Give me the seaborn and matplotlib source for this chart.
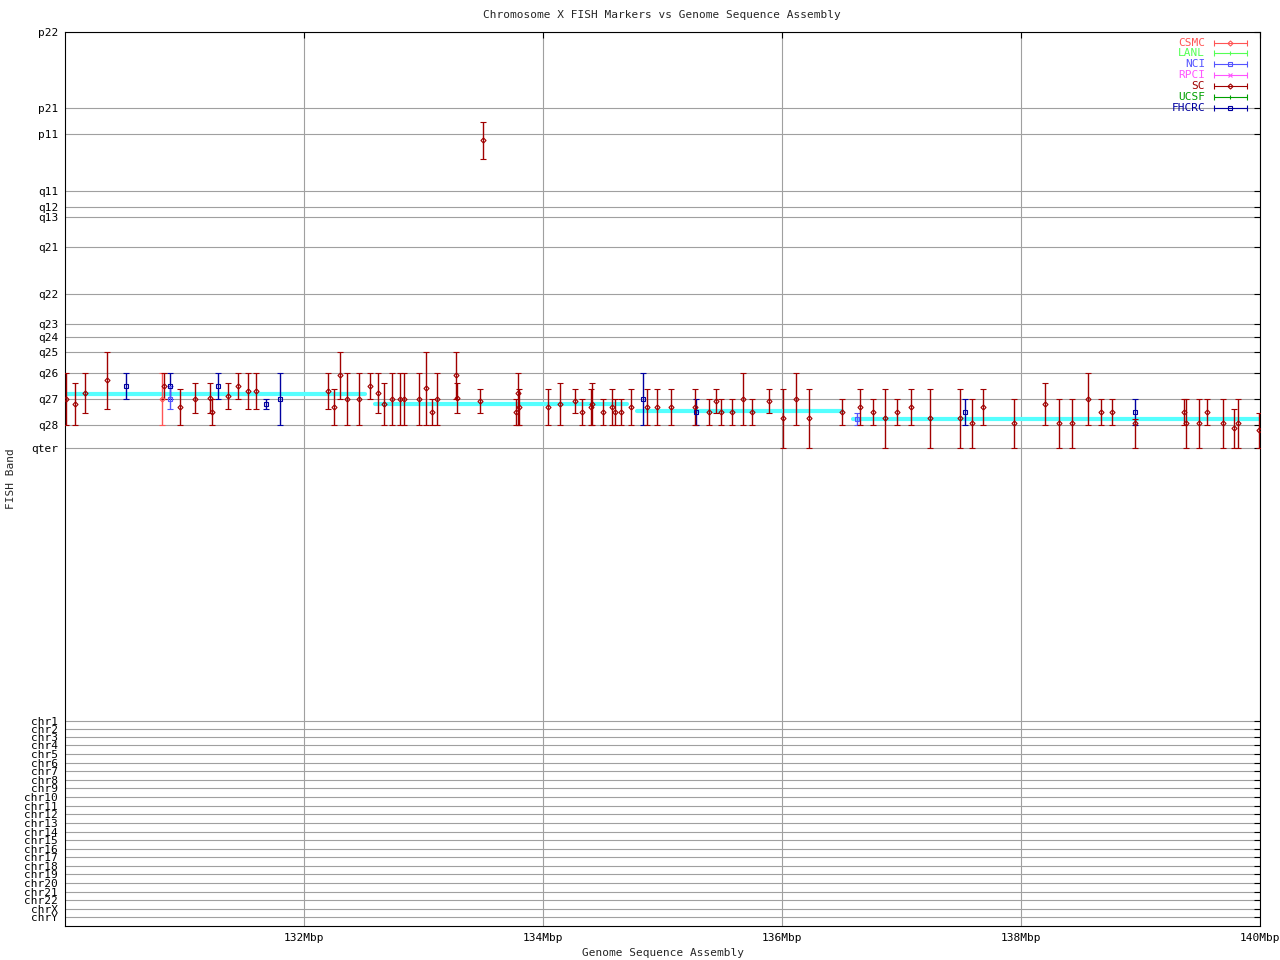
import numpy as np
import pandas as pd
import matplotlib
matplotlib.use("Agg")
import matplotlib.pyplot as plt
import seaborn as sns

# FISH band rows (axis runs top -> bottom)
band_labels = ['p22', 'p21', 'p11', 'q11', 'q12', 'q13', 'q21', 'q22', 'q23',
               'q24', 'q25', 'q26', 'q27', 'q28', 'qter']
band_ticks = [32, 108.3, 134.3, 191.3, 207.3, 217.3, 247.3, 294.3, 324,
              337.3, 352.3, 373.3, 399.3, 425.3, 448.3]
chr_labels = ['chr%d' % i for i in range(1, 23)] + ['chrX', 'chrY']
chr_ticks = [720.7, 728.7, 737.3, 745.3, 754, 763, 771, 780, 788.3, 797.3,
             806, 814.3, 823.3, 831.7, 840.3, 849.3, 857.3, 866, 874, 883,
             892.3, 900.3, 909.3, 917]

# genome sequence assembly trace (cyan)
asm_seg = [1, 1, 2, 2, 3, 3, 4, 4]
asm_mbp = [129.98, 132.51, 132.59, 134.70, 134.79, 136.50, 136.59, 140.0]
asm_band = [393.5, 393.5, 403.5, 403.5, 411, 411, 419, 419]

# FISH markers: position (Mbp), band, band range, lab
mbp = [130.01, 130.08, 130.17, 130.35, 130.51, 130.81, 130.83, 130.88, 130.88, 130.96,
       131.09, 131.21, 131.23, 131.28, 131.36, 131.45, 131.53, 131.60, 131.68, 131.80,
       132.20, 132.25, 132.30, 132.36, 132.46, 132.55, 132.62, 132.67, 132.74, 132.80,
       132.84, 132.96, 133.02, 133.07, 133.11, 133.27, 133.28, 133.47, 133.50, 133.77,
       133.79, 133.80, 134.04, 134.14, 134.27, 134.33, 134.40, 134.41, 134.50, 134.58,
       134.60, 134.65, 134.74, 134.84, 134.87, 134.95, 135.07, 135.27, 135.28, 135.39,
       135.45, 135.49, 135.58, 135.67, 135.75, 135.89, 136.01, 136.12, 136.23, 136.50,
       136.63, 136.65, 136.76, 136.86, 136.96, 137.08, 137.24, 137.49, 137.53, 137.59,
       137.68, 137.94, 138.20, 138.32, 138.43, 138.56, 138.67, 138.76, 138.95, 138.95,
       139.36, 139.38, 139.49, 139.56, 139.69, 139.78, 139.82, 139.99]
band = [399.3, 404.3, 393.3, 380.3, 386.3, 399.3, 386.3, 386.3, 399.3, 407.3,
        399.3, 398.3, 412.0, 386.3, 396.3, 386.3, 391.3, 391.3, 404.3, 399.3,
        391.3, 407.3, 375.3, 399.3, 399.3, 386.3, 393.3, 404.3, 399.3, 399.3,
        399.3, 399.3, 388.3, 412.0, 399.3, 375.3, 398.3, 401.3, 140.3, 412.0,
        393.3, 407.3, 407.3, 404.3, 401.3, 412.0, 407.3, 404.3, 412.0, 407.3,
        412.0, 412.0, 407.3, 399.3, 407.3, 407.3, 407.3, 407.3, 412.0, 412.0,
        401.3, 412.0, 412.0, 399.3, 412.0, 401.3, 418.3, 399.3, 418.3, 412.0,
        419.0, 407.3, 412.0, 418.3, 412.0, 407.3, 418.3, 418.3, 412.0, 423.3,
        407.3, 423.3, 404.3, 423.3, 423.3, 399.3, 412.0, 412.0, 412.0, 423.3,
        412.0, 423.3, 423.3, 412.0, 423.3, 428.3, 423.3, 430.0]
band_lo = [373.3, 382.7, 373.3, 352.3, 373.3, 373.3, 373.3, 373.3, 386.3, 389.3,
           382.7, 382.7, 399.3, 373.3, 382.7, 373.3, 373.3, 373.3, 399.3, 373.3,
           373.3, 389.3, 352.3, 373.3, 373.3, 373.3, 373.3, 382.7, 373.3, 373.3,
           373.3, 373.3, 352.3, 399.3, 373.3, 352.3, 382.7, 389.3, 122.3, 399.3,
           373.3, 389.3, 389.3, 382.7, 389.3, 399.3, 389.3, 382.7, 399.3, 389.3,
           399.3, 399.3, 389.3, 373.3, 389.3, 389.3, 389.3, 389.3, 399.3, 399.3,
           389.3, 399.3, 399.3, 373.3, 399.3, 389.3, 389.3, 373.3, 389.3, 399.3,
           413.3, 389.3, 399.3, 389.3, 399.3, 389.3, 389.3, 389.3, 399.3, 399.3,
           389.3, 399.3, 382.7, 399.3, 399.3, 373.3, 399.3, 399.3, 399.3, 419.0,
           399.3, 399.3, 399.3, 399.3, 399.3, 409.3, 399.3, 413.3]
band_hi = [425.3, 425.3, 413.3, 409.3, 399.3, 425.3, 399.3, 399.3, 409.3, 425.3,
           413.3, 413.3, 425.3, 399.3, 409.3, 399.3, 409.3, 409.3, 409.3, 425.3,
           409.3, 425.3, 399.3, 425.3, 425.3, 399.3, 413.3, 425.3, 425.3, 425.3,
           425.3, 425.3, 425.3, 425.3, 425.3, 399.3, 413.3, 413.3, 159.3, 425.3,
           425.3, 425.3, 425.3, 425.3, 413.3, 425.3, 425.3, 425.3, 425.3, 425.3,
           425.3, 425.3, 425.3, 425.3, 425.3, 425.3, 425.3, 425.3, 425.3, 425.3,
           413.3, 425.3, 425.3, 425.3, 425.3, 413.3, 448.3, 425.3, 448.3, 425.3,
           425.3, 425.3, 425.3, 448.3, 425.3, 425.3, 448.3, 448.3, 425.3, 448.3,
           425.3, 448.3, 425.3, 448.3, 448.3, 425.3, 425.3, 425.3, 425.3, 448.3,
           425.3, 448.3, 448.3, 425.3, 448.3, 448.3, 448.3, 448.3]
lab = (['SC'] * 4 + ['FHCRC', 'CSMC', 'SC', 'FHCRC', 'NCI'] + ['SC'] * 4 +
       ['FHCRC'] + ['SC'] * 4 + ['FHCRC', 'FHCRC'] + ['SC'] * 33 + ['FHCRC'] +
       ['SC'] * 4 + ['FHCRC'] + ['SC'] * 11 + ['NCI'] + ['SC'] * 7 + ['FHCRC'] +
       ['SC'] * 9 + ['FHCRC'] + ['SC'] * 9)

legend_labs = ['CSMC', 'LANL', 'NCI', 'RPCI', 'SC', 'UCSF', 'FHCRC']
lab_color = {'CSMC': '#ff5555', 'LANL': '#55ff55', 'NCI': '#5555ff', 'RPCI': '#ff55ff',
             'SC': '#a00000', 'UCSF': '#00a000', 'FHCRC': '#0000a0'}
lab_marker = {'CSMC': 'D', 'LANL': '|', 'NCI': 's', 'RPCI': 'x',
              'SC': 'D', 'UCSF': '|', 'FHCRC': 's'}

df = pd.DataFrame({'mbp': mbp, 'band': band, 'lo': band_lo, 'hi': band_hi, 'lab': lab})
asm = pd.DataFrame({'seg': asm_seg, 'mbp': asm_mbp, 'band': asm_band})

sns.set_style('white')
plt.rcParams['font.family'] = ['DejaVu Sans Mono']
fs = 8

fig = plt.figure(figsize=(12.8, 9.6), dpi=100)
ax = fig.add_axes([65 / 1280, 1 - 926 / 960, 1195 / 1280, 894 / 960])

# assembly trace
sns.lineplot(data=asm, x='mbp', y='band', units='seg', estimator=None,
             color='#55ffff', lw=3, ax=ax, zorder=2)

# FISH markers with band range
for name, g in df.groupby('lab'):
    c = lab_color[name]
    ax.errorbar(g['mbp'], g['band'], yerr=[g['band'] - g['lo'], g['hi'] - g['band']],
                fmt=lab_marker[name], ms=3.2 if lab_marker[name] == 's' else 2.6,
                mfc='none', mec=c, mew=0.8, ecolor=c, elinewidth=1.0,
                capsize=2, capthick=0.8, zorder=3)

ax.set_xlim(130, 140)
ax.set_ylim(926, 32)
ax.set_xticks([132, 134, 136, 138, 140])
ax.set_xticklabels(['%dMbp' % v for v in [132, 134, 136, 138, 140]])
ax.set_yticks(band_ticks + chr_ticks)
ax.set_yticklabels(band_labels + chr_labels)
ax.grid(True, color='#a0a0a0', lw=0.8)
ax.tick_params(direction='in', length=4, width=0.8, top=True, right=True,
               labelsize=fs, pad=5, colors='black')
for s in ax.spines.values():
    s.set_color('black')
    s.set_linewidth(0.8)

ax.set_xlabel('Genome Sequence Assembly', fontsize=fs)
ax.xaxis.set_label_coords(0.5, -0.0302)
ax.xaxis.label.set_va('center')
ax.set_ylabel('FISH Band', fontsize=fs)
ax.yaxis.set_label_coords(-0.0452, 0.5)
ax.yaxis.label.set_va('center')
fig.text(662 / 1280, 1 - 15 / 960, 'Chromosome X FISH Markers vs Genome Sequence Assembly',
         ha='center', va='center', fontsize=fs)

# gnuplot style key, top right
for i, name in enumerate(legend_labs):
    c = lab_color[name]
    yk = (926 - 42.5 - i * 10.9) / 894
    ax.text(0.954, yk, name, transform=ax.transAxes, ha='right', va='center',
            color=c, fontsize=fs)
    ax.plot([0.9615, 0.989], [yk, yk], transform=ax.transAxes, color=c, lw=0.8,
            clip_on=False)
    ax.plot([0.9615, 0.989], [yk, yk], transform=ax.transAxes, ls='none', marker='|',
            ms=5, mew=0.8, color=c, clip_on=False)
    ax.plot([0.9753], [yk], transform=ax.transAxes, ls='none', marker=lab_marker[name],
            ms=3.2 if lab_marker[name] == 's' else 2.6, mfc='none', mec=c, mew=0.8,
            clip_on=False)

fig.savefig('out.png', dpi=100)
